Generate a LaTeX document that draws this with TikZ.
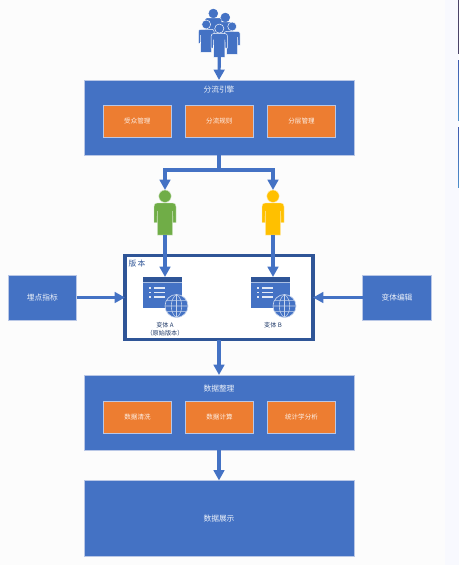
\documentclass[tikz,border=0pt]{standalone}
\usepackage{fontspec}
\setmainfont{Noto Sans CJK SC}
\usetikzlibrary{arrows.meta}
\definecolor{bluefill}{HTML}{4472C4}
\definecolor{orangefill}{HTML}{ED7D31}
\definecolor{edgelight}{HTML}{B9C7E6}
\definecolor{framedark}{HTML}{2F5597}
\definecolor{greenman}{HTML}{70AD47}
\definecolor{yellowman}{HTML}{FFC000}
\definecolor{stripbg}{HTML}{F8F9FE}
\definecolor{stripdark}{HTML}{4A4468}
\definecolor{stripa}{HTML}{3F5BB0}
\definecolor{stripb}{HTML}{4E8FCB}
\tikzset{
  sized/.style 2 args={minimum width=#1*.75pt,minimum height=#2*.75pt,inner sep=0pt,outer sep=0pt},
  panel/.style={draw=edgelight,line width=.5pt,fill=bluefill,text=white!90!bluefill,font=\fontsize{5.8}{7}\selectfont},
  tile/.style={draw=edgelight,line width=.5pt,fill=orangefill,sized={68.5}{32.5},text=white!90!orangefill,font=\fontsize{4.9}{6}\selectfont},
  caption/.style={inner sep=0pt,text=white!90!bluefill,font=\fontsize{5.8}{7}\selectfont},
  note/.style={inner sep=0pt,text=framedark!70!black,font=\fontsize{4.6}{6}\selectfont},
  flow/.style={draw=bluefill,line width=2.4pt,-{Triangle[length=7.8pt,width=8pt]}},
  trunk/.style={draw=bluefill,line width=2.4pt},
  anchorbox/.style={inner sep=0pt,outer sep=0pt}
}
% person: x, y of top centre, scale, colour, outline colour
\newcommand{\figureicon}[5]{%
  \begin{scope}[shift={(#1,#2)},x=#3*.75pt,y=-#3*.75pt]
    \fill[#4,draw=#5,line width=.35pt] (0,6.2) circle[radius=6.2];
    \fill[#4,draw=#5,line width=.35pt]
      (-8,13) -- (8,13) .. controls (10,13) and (11,14.5) .. (11,16.5) -- (11,32.5) -- (8,32.5) -- (7.6,21)
      -- (7.6,45) -- (-7.6,45) -- (-7.6,21) -- (-8,32.5) -- (-11,32.5) -- (-11,16.5)
      .. controls (-11,14.5) and (-10,13) .. (-8,13) -- cycle;
  \end{scope}}
% web window icon: x, y of its top left corner
\newcommand{\webicon}[2]{%
  \begin{scope}[shift={(#1,#2)}]
    \fill[framedark] (0,0) rectangle (39,4.5);
    \fill[white!55!bluefill] (0,4.5) rectangle (39,6);
    \foreach \yy in {11,15.5,20}{
      \fill[white!85!bluefill] (6,\yy-.8) rectangle (8,\yy+.8);
      \fill[white!85!bluefill] (11,\yy-.7) rectangle (22,\yy+.7);
    }
    \fill[bluefill,draw=white!70!bluefill,line width=.5pt] (33.5,29) circle[radius=11.5];
    \draw[white!70!bluefill,line width=.4pt]
      (22,29) -- (45,29) (23.5,23.3) -- (43.5,23.3) (23.5,34.7) -- (43.5,34.7)
      (33.5,17.5) -- (33.5,40.5)
      (33.5,17.5) .. controls (26.5,22) and (26.5,36) .. (33.5,40.5)
      (33.5,17.5) .. controls (40.5,22) and (40.5,36) .. (33.5,40.5);
  \end{scope}}
\begin{document}
\begin{tikzpicture}[x=.75pt,y=-.75pt]
\useasboundingbox (0,0) rectangle (459,565);
\fill[white!99!black] (0,0) rectangle (459,565);
\fill[stripbg] (445,0) rectangle (459,565);
\fill[stripdark] (458,0) rectangle (459,54);
\shade[top color=stripa,bottom color=stripb] (458,60) rectangle (459,120);
\shade[top color=stripa,bottom color=stripb] (458,127) rectangle (459,187);

% crowd
\figureicon{213.3}{9}{.72}{bluefill}{bluefill}
\figureicon{225.3}{13}{.72}{bluefill}{bluefill}
\figureicon{206.2}{20}{.72}{bluefill}{white}
\figureicon{232.2}{22}{.72}{bluefill}{white}
\figureicon{219.3}{24}{.74}{bluefill}{white}
\node[anchorbox,sized={26}{10}] (crowd) at (219.3,50) {};

% top panel
\node[panel,sized={270}{75}] (engine) at (219,117.5) {};
\node[caption] (enginet) at (219,90) {分流引擎};
\node[tile] (t1) at (137.3,121.2) {受众管理};
\node[tile] (t2) at (219.3,121.2) {分流规则};
\node[tile] (t3) at (301.5,121.2) {分层管理};

% users
\figureicon{165}{190}{1}{greenman}{white!70!greenman}
\figureicon{273}{190}{1}{yellowman}{white!70!yellowman}
\node[anchorbox,sized={22}{45}] (usera) at (165,212.5) {};
\node[anchorbox,sized={22}{45}] (userb) at (273,212.5) {};

% version frame
\node[draw=framedark,line width=2.9pt,fill=white,sized={188}{84}] (ver) at (219,297.5) {};
\node[inner sep=0pt,text=framedark,font=\fontsize{5.8}{7}\selectfont] (vert) at (137,263.5) {版\,本};

% windows
\node[anchorbox,fill=bluefill,sized={39}{31}] (wina) at (162.5,292.5) {};
\node[anchorbox,fill=bluefill,sized={39}{31}] (winb) at (270.5,292.5) {};
\webicon{143}{277}
\webicon{251}{277}
\node[note] (capa) at (165,325) {变体 A};
\node[note] (capa2) at (165,333.5) {（原始版本）};
\node[note] (capb) at (273,325) {变体 B};

% side boxes
\node[panel,sized={68.5}{45}] (left) at (42.3,297.5) {埋点指标};
\node[panel,sized={68.5}{45}] (right) at (397,297.5) {变体编辑};

% data panel
\node[panel,sized={270}{75}] (data) at (219,412.5) {};
\node[caption] (datat) at (219,389) {数据整理};
\node[tile] (d1) at (137.5,417.3) {数据清洗};
\node[tile] (d2) at (219.5,417.3) {数据计算};
\node[tile] (d3) at (301.5,417.3) {统计学分析};

% display panel
\node[panel,sized={270}{75.5}] (show) at (219,518.2) {数据展示};

% connectors
\coordinate (split) at (219,170);
\draw[flow] (crowd.south) -- (engine.north);
\draw[trunk] (engine.south) -- (split);
\draw[flow] (split) -| (usera.north);
\draw[flow] (split) -| (userb.north);
\draw[flow] (usera.south) -- (wina.north -| usera.south);
\draw[flow] (userb.south) -- (winb.north -| userb.south);
\draw[flow] (left.east) -- (ver.west);
\draw[flow] (right.west) -- (ver.east);
\draw[flow] (ver.south) -- (data.north);
\draw[flow] (data.south) -- (show.north);
\end{tikzpicture}
\end{document}
